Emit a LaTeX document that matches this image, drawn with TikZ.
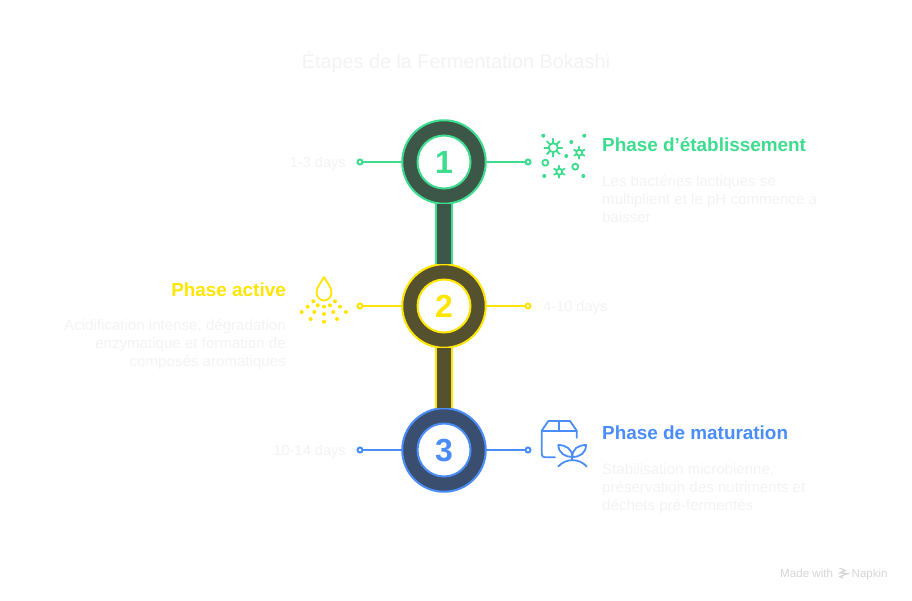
\documentclass[tikz,border=0pt]{standalone}
\usepackage{fontspec}
\setsansfont{Liberation Sans}
\usetikzlibrary{positioning}
\definecolor{greenph}{HTML}{3DDC8E}
\definecolor{greendk}{HTML}{3C5748}
\definecolor{yellowph}{HTML}{FFE500}
\definecolor{yellowdk}{HTML}{55502E}
\definecolor{bluoph}{HTML}{4A8DF8}
\definecolor{bluodk}{HTML}{3A4F70}
\definecolor{faint}{HTML}{F3F3F3}
\definecolor{wmgray}{HTML}{D5D5D5}

\begin{document}
\begin{tikzpicture}[
  x=1pt, y=-1pt,
  font=\sffamily,
  ring/.style={draw=#1, line width=2pt, circle, minimum size=83.5pt, inner sep=0pt, outer sep=0pt},
  num/.style={draw=#1, text=#1, fill=white, line width=2pt, circle, minimum size=53pt, inner sep=0pt, outer sep=0pt, font=\sffamily\bfseries\fontsize{32}{36}\selectfont},
  stem/.style={draw=#1, line width=1.75pt, double distance=14.5pt},
  dot/.style={draw=#1, fill=white, line width=2pt, circle, minimum size=5pt, inner sep=0pt, outer sep=0pt},
  lead/.style={draw=#1, line width=2pt},
  head/.style={text=#1, inner sep=0pt, font=\sffamily\bfseries\fontsize{18.9}{24}\selectfont},
  desc/.style={text=faint, inner sep=0pt, font=\sffamily\fontsize{15.1}{18}\selectfont},
  days/.style={text=faint, inner sep=0pt, yshift=-2pt, font=\sffamily\fontsize{14.6}{18}\selectfont},
  ico/.style={draw=#1, line width=1.8pt, line cap=round, line join=round},
  gear/.pic={
    \draw[pic actions] (0,0) circle (#1);
    \foreach \a in {30,90,...,330} \draw[pic actions] (\a:#1) -- (\a:2*#1);
  },
  sun/.pic={
    \draw[pic actions] (0,0) circle (4.5pt);
    \foreach \a in {0,45,...,315} \draw[pic actions] (\a:4.5pt) -- (\a:9pt);
  }
]
\useasboundingbox (0,0) rectangle (912,600);

% title
\node[text=faint, inner sep=0pt, font=\sffamily\fontsize{19.8}{24}\selectfont] (title) at (456,62) {Étapes de la Fermentation Bokashi};

% rings
\node[ring=greenph, fill=greendk] (ringa) at (444,162) {};
\node[ring=yellowph, fill=yellowdk, below=60.5pt of ringa] (ringb) {};
\node[ring=bluoph, fill=bluodk, below=60.5pt of ringb] (ringc) {};

\draw[stem=greenph, double=greendk] (ringa) -- (ringb);
\draw[stem=yellowph, double=yellowdk] (ringb) -- (ringc);

\node[num=greenph] (numa) at (ringa) {1};
\node[num=yellowph] (numb) at (ringb) {2};
\node[num=bluoph] (numc) at (ringc) {3};

% leaders
\node[dot=greenph, left=39.75pt of ringa] (dotal) {};
\node[dot=greenph, right=39.75pt of ringa] (dotar) {};
\node[dot=yellowph, left=39.75pt of ringb] (dotbl) {};
\node[dot=yellowph, right=39.75pt of ringb] (dotbr) {};
\node[dot=bluoph, left=39.75pt of ringc] (dotcl) {};
\node[dot=bluoph, right=39.75pt of ringc] (dotcr) {};

\draw[lead=greenph] (ringa) -- (dotal);
\draw[lead=greenph] (ringa) -- (dotar);
\draw[lead=yellowph] (ringb) -- (dotbl);
\draw[lead=yellowph] (ringb) -- (dotbr);
\draw[lead=bluoph] (ringc) -- (dotcl);
\draw[lead=bluoph] (ringc) -- (dotcr);

% days
\node[days, left=11.5pt of dotal] (daysa) {1-3 days};
\node[days, right=12.5pt of dotbr] (daysb) {4-10 days};
\node[days, left=11.5pt of dotcl] (daysc) {10-14 days};

% text
\node[head=greenph, anchor=west] (heada) at (602,145) {Phase d’établissement};
\node[desc, align=left, anchor=north west] (desca) at (602,175) {Les bactéries lactiques se\\multiplient et le pH commence à\\baisser};
\node[head=yellowph, anchor=east] (headb) at (286,289.5) {Phase active};
\node[desc, align=right, anchor=north east] (descb) at (286,319) {Acidification intense, dégradation\\enzymatique et formation de\\composés aromatiques};
\node[head=bluoph, anchor=west] (headc) at (602,433) {Phase de maturation};
\node[desc, align=left, anchor=north west] (descc) at (602,463) {Stabilisation microbienne,\\préservation des nutriments et\\déchets pré-fermentés};

% microbes
\pic[ico=greenph] at (553.3,147.7) {sun};
\pic[ico=greenph] at (579.3,152.7) {gear=3pt};
\pic[ico=greenph] at (559.3,171.7) {gear=3pt};
\draw[ico=greenph] (545.3,162.7) circle (3pt);
\draw[ico=greenph] (575.3,166.7) circle (3pt);
\foreach \x/\y in {543.3/135.7, 584.3/135.7, 571.3/142, 566.3/156, 544.3/176, 583.3/176}
  \fill[greenph] (\x,\y) circle (2pt);

% drop
\draw[ico=yellowph] (324,277) .. controls (321,283) and (316.5,287) .. (316.5,292.5)
  .. controls (316.5,297) and (320,300.5) .. (324,300.5)
  .. controls (328,300.5) and (331.5,297) .. (331.5,292.5)
  .. controls (331.5,287) and (327,283) .. (324,277) -- cycle;
\foreach \x/\y in {313.3/301.3, 335/301.3, 307.7/306.7, 317.7/305.3, 330/305.3, 324/306.7, 340/306.7,
  301.7/312, 314.3/312, 324/314, 333.3/312, 346/312, 310.7/319, 337/319, 324/321.7}
  \fill[yellowph] (\x,\y) circle (2pt);

% box and sprout
\draw[ico=bluoph] (555,457.3) -- (545,457.3) .. controls (543,457.3) and (541.7,456) .. (541.7,454) -- (541.7,430.7)
  -- (548.3,421) -- (570,421) -- (576.7,430.7) -- (576.7,437.7);
\draw[ico=bluoph] (541.7,430.7) -- (576.7,430.7);
\draw[ico=bluoph] (559,421) -- (559,430.7);
\draw[ico=bluoph] (572.3,457) .. controls (565,457) and (558.5,453) .. (558.3,445)
  .. controls (566,445) and (572.3,449) .. (572.3,457);
\draw[ico=bluoph] (572.3,457) .. controls (580,457) and (586,453) .. (586,445)
  .. controls (578,445) and (572.3,449) .. (572.3,457);
\draw[ico=bluoph] (572.3,457) -- (572.3,460);
\draw[ico=bluoph] (558.3,466.5) .. controls (566,458) and (579,458) .. (586.7,466.5);

% watermark
\node[text=wmgray, inner sep=0pt, anchor=west, font=\sffamily\fontsize{11.6}{13}\selectfont] (madewith) at (780,573) {Made with};
\node[text=wmgray, inner sep=0pt, anchor=west, font=\sffamily\fontsize{11.5}{13}\selectfont] (napkin) at (851.5,574.5) {Napkin};
\draw[wmgray, line width=1.2pt] (839.5,568) -- (845,570.5) -- (840,573) -- (847.5,573.5) -- (840,576.5) -- (843,578);

\end{tikzpicture}
\end{document}
